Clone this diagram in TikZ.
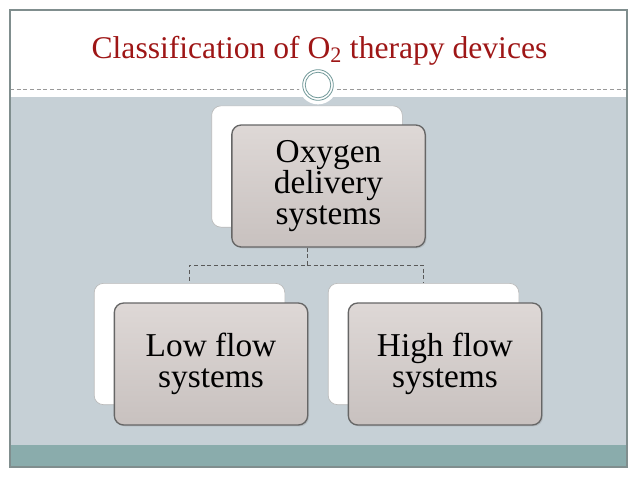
\documentclass[tikz,border=0pt]{standalone}
\usepackage{fontspec}
\setmainfont{Liberation Serif}
\usetikzlibrary{shadows}
\definecolor{titlered}{RGB}{158,22,22}
\definecolor{slidegray}{RGB}{198,208,214}
\definecolor{bandteal}{RGB}{138,172,172}
\definecolor{framegray}{RGB}{128,142,142}
\definecolor{ringteal}{RGB}{112,152,152}
\definecolor{boxtop}{RGB}{222,216,214}
\definecolor{boxbot}{RGB}{200,193,191}
\tikzset{
  backbox/.style={draw=gray!55, fill=white, rounded corners=7pt,
    minimum width=143pt, minimum height=91pt, line width=0.5pt},
  frontbox/.style={draw=black!60, top color=boxtop, bottom color=boxbot,
    rounded corners=7pt, minimum width=145pt, minimum height=91.5pt,
    line width=1pt, align=center, font=\fontsize{25}{23.5}\selectfont,
    drop shadow={opacity=0.25, shadow xshift=1pt, shadow yshift=-1pt}},
  link/.style={draw=black!65, densely dashed, line width=0.5pt}
}
\begin{document}
\begin{tikzpicture}[x=0.75pt, y=-0.75pt]
  \useasboundingbox (0,0) rectangle (638,479);
  % slide
  \fill[slidegray] (10,97) rectangle (627,445);
  \fill[bandteal] (10,445) rectangle (627,467);
  \draw[gray!80, densely dashed, line width=0.5pt] (10,89) -- (627,89);
  \draw[framegray, line width=1pt] (10,10) rectangle (627,467);
  \fill[white] (318,85) circle (14.5pt);
  \draw[ringteal, line width=0.6pt] (318,85) circle (11.5pt);
  \draw[ringteal, line width=0.6pt] (318,85) circle (9.6pt);
  \node[titlered, font=\fontsize{23.7}{27}\selectfont, anchor=base] (title) at (319.5,58)
    {Classification of O\textsubscript{2} therapy devices};
  % hierarchy
  \node[backbox] (topback) at (307,166.5) {};
  \node[backbox] (lowback) at (189.5,344) {};
  \node[backbox] (highback) at (423.5,344) {};
  \coordinate (jn) at (307,265);
  \draw[link] (topback.south) -- (jn) -| (lowback.north);
  \draw[link] (jn) -| (highback.north);
  \node[frontbox] (oxygen) at (328.5,186) {Oxygen\\delivery\\systems};
  \node[frontbox] (low) at (211,364) {Low flow\\systems};
  \node[frontbox] (high) at (445,364) {High flow\\systems};
\end{tikzpicture}
\end{document}
